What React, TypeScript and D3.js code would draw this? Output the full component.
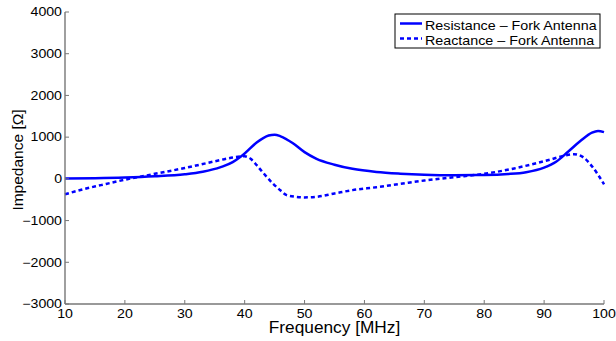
import React from 'react';
import * as d3 from 'd3';

const resFreq = [10, 15, 20, 25, 30, 33, 36, 38, 39.2, 40, 42, 44, 45, 46, 48, 50, 52, 55, 58, 62, 66, 70, 75, 80, 84, 87, 90, 92, 94, 96, 98, 99, 100];
const resistance = [10, 15, 30, 60, 110, 170, 280, 400, 520, 610, 870, 1040, 1060, 1020, 860, 640, 480, 340, 240, 165, 125, 100, 88, 92, 115, 160, 270, 410, 650, 900, 1110, 1150, 1120];

const reaFreq = [10, 13, 16, 20, 25, 30, 35, 38, 40, 41, 42, 43, 44.7, 46, 47, 48.5, 50, 52, 55, 58, 62, 66, 70, 75, 80, 85, 88, 91, 93.5, 95, 96.5, 98, 99, 100];
const reactance = [-370, -250, -150, -20, 120, 260, 420, 510, 540, 480, 330, 160, -110, -280, -390, -430, -445, -430, -350, -270, -200, -120, -40, 40, 120, 250, 350, 460, 560, 590, 520, 300, 100, -130];

const xTicks = [10, 20, 30, 40, 50, 60, 70, 80, 90, 100];
const yTicks = [-3000, -2000, -1000, 0, 1000, 2000, 3000, 4000];

const seriesNames = ['Resistance – Fork Antenna', 'Reactance – Fork Antenna'];

const width = 616;
const height = 341;
const margin = { left: 65, right: 12, top: 12, bottom: 37 };
const font = '"Liberation Sans", Arial, sans-serif';
const blue = '#0000ff';
const axisColor = '#777777';

const fmt = (v: number) => (v < 0 ? '\u2212' + Math.abs(v) : String(v));

// the reference is slightly stretched horizontally, so texts get a small x-scale
function Label(props: { x: number; y: number; size: number; sx?: number; anchor?: string; dy?: string; children: React.ReactNode }) {
    const { x, y, size, sx = 1.15, anchor = 'start', dy } = props;
    return (
        <text transform={`translate(${x},${y}) scale(${sx},1)`} dy={dy} textAnchor={anchor}
            fontFamily={font} fontSize={size} fill="#000">{props.children}</text>
    );
}

export default function App() {
    const xScale = d3.scaleLinear().domain([10, 100]).range([margin.left, width - margin.right]);
    const yScale = d3.scaleLinear().domain([-3000, 4000]).range([height - margin.bottom, margin.top]);

    const line = d3.line<[number, number]>()
        .x(d => xScale(d[0]))
        .y(d => yScale(d[1]))
        .curve(d3.curveMonotoneX);

    const resPath = line(resFreq.map((f, i) => [f, resistance[i]] as [number, number])) || '';
    const reaPath = line(reaFreq.map((f, i) => [f, reactance[i]] as [number, number])) || '';

    const x0 = xScale(10);
    const y0 = yScale(-3000);
    const x1 = xScale(100);
    const y1 = yScale(4000);

    const lx = 395, ly = 14, lw = 205, lh = 34;

    return (
        <div style={{ position: 'fixed', left: 0, top: 0 }}>
            <svg width={width} height={height} style={{ display: 'block', background: '#fff' }}>
                <path d={resPath} fill="none" stroke={blue} strokeWidth={2.5} />
                <path d={reaPath} fill="none" stroke={blue} strokeWidth={2.5} strokeDasharray="4,3" />

                {/* axes */}
                <line x1={x0} y1={y1} x2={x0} y2={y0} stroke={axisColor} strokeWidth={1.4} />
                <line x1={x0} y1={y0} x2={x1} y2={y0} stroke={axisColor} strokeWidth={1.4} />
                {yTicks.map(t => (
                    <g key={'y' + t}>
                        <line x1={x0} x2={x0 + 4} y1={yScale(t)} y2={yScale(t)} stroke={axisColor} strokeWidth={1} />
                        <Label x={x0 - 3} y={yScale(t)} dy="0.36em" anchor="end" size={12} sx={1.18}>{fmt(t)}</Label>
                    </g>
                ))}
                {xTicks.map(t => (
                    <g key={'x' + t}>
                        <line x1={xScale(t)} x2={xScale(t)} y1={y0} y2={y0 - 4} stroke={axisColor} strokeWidth={1} />
                        <Label x={xScale(t)} y={318} anchor="middle" size={12} sx={1.18}>{t}</Label>
                    </g>
                ))}

                <Label x={(x0 + x1) / 2} y={333} anchor="middle" size={16} sx={1.08}>Frequency [MHz]</Label>
                <text transform={`translate(23,${160}) rotate(-90)`} textAnchor="middle" fontFamily={font} fontSize={15.5} fill="#000">Impedance [Ω]</text>

                {/* legend */}
                <rect x={lx} y={ly} width={lw} height={lh} fill="#fff" stroke="#000" strokeWidth={1} />
                {seriesNames.map((name, i) => (
                    <g key={name}>
                        <line x1={lx + 5} x2={lx + 27} y1={ly + 9.5 + i * 15} y2={ly + 9.5 + i * 15} stroke={blue} strokeWidth={2.5} strokeDasharray={i === 1 ? '4,3' : undefined} />
                        <Label x={lx + 30} y={ly + 16 + i * 15} size={13} sx={1.1}>{name}</Label>
                    </g>
                ))}
            </svg>
        </div>
    );
}
